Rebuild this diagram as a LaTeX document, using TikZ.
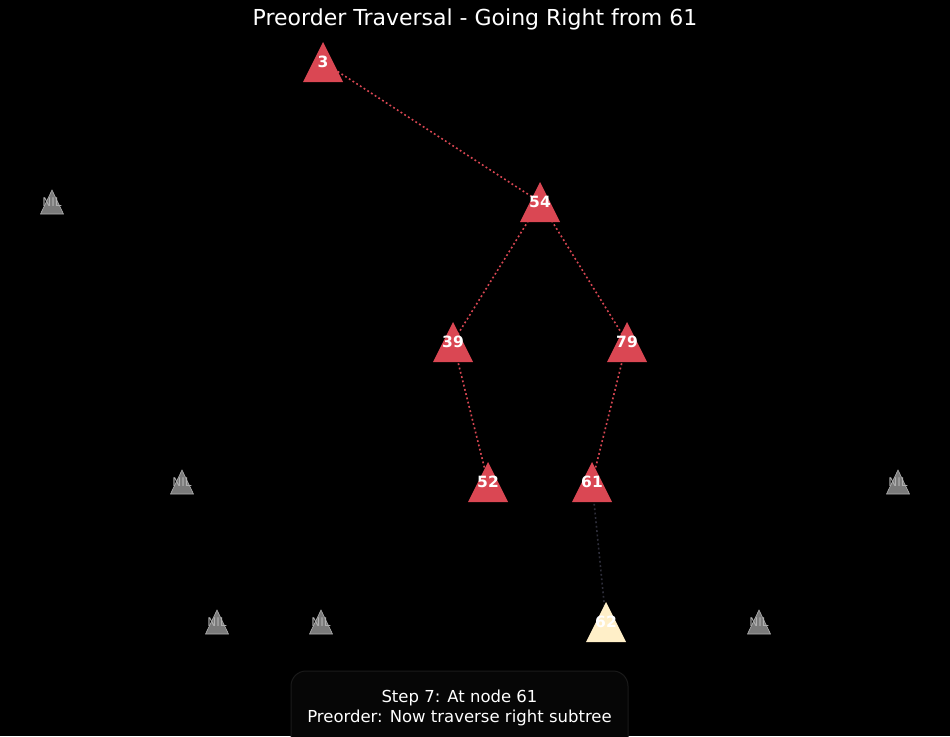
\documentclass[tikz,border=0pt]{standalone}
\usepackage{fontspec}
\setmainfont{DejaVu Sans}
\pgfdeclarelayer{back}
\pgfdeclarelayer{bg}
\pgfdeclarelayer{mid}
\pgfsetlayers{back,bg,mid,main}
\definecolor{nodered}{HTML}{DA4753}
\definecolor{cream}{HTML}{FFEFC8}
\definecolor{nilgray}{HTML}{7A7A7A}
\definecolor{niledge}{HTML}{B0B0B0}
\definecolor{darkedge}{HTML}{2E2E3A}
\definecolor{boxfill}{HTML}{060606}
\definecolor{boxedge}{HTML}{1A1A1A}
\tikzset{
  lbl/.style={text=white, font=\bfseries\fontsize{15.5}{15.5}\selectfont, inner sep=0pt},
  nillbl/.style={text=niledge, font=\fontsize{12}{12}\selectfont, inner sep=0pt},
  edgered/.style={draw=nodered, line width=1.6pt, dash pattern=on 1.8pt off 2.6pt},
  edgedark/.style={draw=darkedge, line width=1.6pt, dash pattern=on 1.8pt off 2.6pt},
  bigtri/.pic={\path[pic actions] (0,-20) -- (20,20) -- (-20,20) -- cycle;},
  niltri/.pic={\path[pic actions] (0,-12) -- (11.5,12) -- (-11.5,12) -- cycle;}
}
\begin{document}
\begin{tikzpicture}[x=1pt,y=-1pt]
\begin{pgfonlayer}{back}
\fill[black] (0,0) rectangle (950,736);
\end{pgfonlayer}
\useasboundingbox (0,0) rectangle (950,736);
\clip (0,0) rectangle (950,736);
% title
\node[text=white, font=\fontsize{22}{22}\selectfont] (title) at (475,19) {Preorder Traversal - Going Right from 61};
% node labels
\node[lbl] (n3) at (323,62) {3};
\node[lbl] (n54) at (540,202) {54};
\node[lbl] (n39) at (453,342) {39};
\node[lbl] (n79) at (627,342) {79};
\node[lbl] (n52) at (488,482) {52};
\node[lbl] (n61) at (592,482) {61};
\node[lbl] (n62) at (606,622) {62};
\node[nillbl] (nil1) at (52,202) {NIL};
\node[nillbl] (nil2) at (182,482) {NIL};
\node[nillbl] (nil3) at (898,482) {NIL};
\node[nillbl] (nil4) at (217,622) {NIL};
\node[nillbl] (nil5) at (321,622) {NIL};
\node[nillbl] (nil6) at (759,622) {NIL};
% triangles
\begin{pgfonlayer}{mid}
\foreach \n in {n3,n54,n39,n79,n52,n61}{
  \pic[fill=nodered] at (\n.center) {bigtri};
}
\pic[fill=cream] at (n62.center) {bigtri};
\foreach \n in {nil1,nil2,nil3,nil4,nil5,nil6}{
  \pic[fill=nilgray, draw=niledge, line width=0.6pt] at (\n.center) {niltri};
}
\end{pgfonlayer}
% edges
\begin{pgfonlayer}{bg}
\draw[edgered] (n3.center) -- (n54.center);
\draw[edgered] (n54.center) -- (n39.center);
\draw[edgered] (n54.center) -- (n79.center);
\draw[edgered] (n39.center) -- (n52.center);
\draw[edgered] (n79.center) -- (n61.center);
\draw[edgedark] (n61.center) -- (n62.center);
\end{pgfonlayer}
% status box (open at the bottom, runs off the page)
\fill[boxfill, rounded corners=15pt] (291,671) rectangle (628,780);
\draw[draw=boxedge, line width=1pt, rounded corners=15pt] (291,745) -- (291,671) -- (628,671) -- (628,745);
\node[text=white, font=\fontsize{16.5}{20.5}\selectfont, align=center] (status) at (459.5,708) {Step 7: At node 61\\Preorder: Now traverse right subtree};
\end{tikzpicture}
\end{document}
